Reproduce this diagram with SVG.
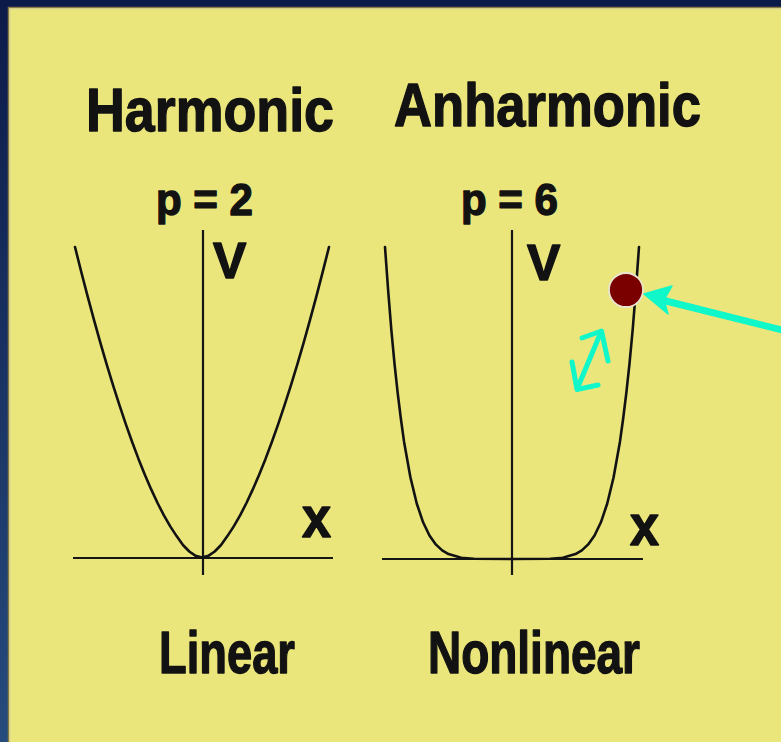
<svg xmlns="http://www.w3.org/2000/svg" width="781" height="742" viewBox="0 0 781 742">
<defs>
<linearGradient id="bg" x1="0" y1="0" x2="0" y2="1">
<stop offset="0" stop-color="#0c1a49"/>
<stop offset="1" stop-color="#264b7d"/>
</linearGradient>
<style>
.t{font-family:"Liberation Sans",Arial,Helvetica,sans-serif;font-weight:bold;fill:#121212;stroke:#121212;stroke-width:1.4;stroke-linejoin:round}
.ax{stroke:#151515;stroke-width:2.2;fill:none}
.cv{stroke:#121212;stroke-width:2.6;fill:none;stroke-linejoin:round;stroke-linecap:round}
.cy{stroke:#10f7c9;fill:none;stroke-linecap:round;stroke-linejoin:round}
</style>
</defs>
<rect x="0" y="0" width="781" height="742" fill="url(#bg)"/>
<rect x="0" y="0" width="781" height="7" fill="#0c1a49"/>
<rect x="8.5" y="7.5" width="774" height="736" fill="#ebe67c" stroke="#857a45" stroke-width="1.5"/>
<rect x="10" y="9" width="772" height="734" fill="none" stroke="#d9d39a" stroke-width="1"/>

<g id="title-harmonic"><text class="t" x="86" y="131" font-size="62" textLength="248" lengthAdjust="spacingAndGlyphs">Harmonic</text></g>
<g id="title-anharmonic"><text class="t" x="394" y="126" font-size="61" textLength="307" lengthAdjust="spacingAndGlyphs">Anharmonic</text></g>
<g id="label-p2"><text class="t" x="156" y="215" font-size="45" textLength="97" lengthAdjust="spacingAndGlyphs">p = 2</text></g>
<g id="label-p6"><text class="t" x="461" y="215" font-size="45" textLength="97" lengthAdjust="spacingAndGlyphs">p = 6</text></g>

<g id="plot-harmonic">
<line class="ax" x1="203" y1="230" x2="203" y2="575"/>
<line class="ax" x1="73" y1="558" x2="333" y2="558"/>
<polyline class="cv" points="75,247 81.35,272.2 87.7,296.6 94.05,320.1 100.4,342.8 106.75,364.6 113.1,385.3 119.45,405.2 125.8,424.1 132.15,442 138.5,458.9 144.85,474.7 151.2,489.4 157.55,503 163.9,515.4 170.25,526.4 176.6,536.1 182.95,545 189.3,551.5 195.65,555.8 202,557.5 208.35,555.8 214.7,551.5 221.05,545 227.4,536.1 233.75,526.4 240.1,515.4 246.45,503 252.8,489.4 259.15,474.7 265.5,458.9 271.85,442 278.2,424.1 284.55,405.2 290.9,385.3 297.25,364.6 303.6,342.8 309.95,320.1 316.3,296.6 322.65,272.2 329,247"/>
<text class="t" x="213" y="278" font-size="50">V</text>
<text class="t" x="302" y="537" font-size="58" textLength="29" lengthAdjust="spacingAndGlyphs">x</text>
</g>

<g id="plot-anharmonic">
<line class="ax" x1="512" y1="230" x2="512" y2="575"/>
<line class="ax" x1="382" y1="559" x2="643" y2="559"/>
<polyline class="cv" points="385,247 388.2,291 391.35,330 394.5,363.6 397.7,393.2 400.9,419 404,441.4 410.4,477.2 416.75,503.5 423.1,522.3 429.45,535.5 435.8,544.4 442.15,550.4 448.5,554.1 461.2,557.7 473.9,558.8 512,559 550.1,558.8 562.8,557.7 575.5,554.1 581.85,550.4 588.2,544.4 594.55,535.5 600.9,522.3 607.25,503.5 613.6,477.2 620,441.4 623.1,419 626.3,393.2 629.5,363.6 632.65,330 635.8,291 639,247"/>
<text class="t" x="527" y="280" font-size="50">V</text>
<text class="t" x="630" y="545" font-size="58" textLength="29" lengthAdjust="spacingAndGlyphs">x</text>
</g>

<g id="particle"><circle cx="626" cy="290" r="17" fill="#7a0000" stroke="#e8e4d0" stroke-width="1.8"/></g>

<g id="label-linear"><text class="t" x="159" y="673" font-size="60" textLength="136" lengthAdjust="spacingAndGlyphs">Linear</text></g>
<g id="label-nonlinear"><text class="t" x="428" y="673" font-size="60" textLength="212" lengthAdjust="spacingAndGlyphs">Nonlinear</text></g>

<g id="connectors">
<line class="cy" x1="662" y1="300" x2="782" y2="330" stroke-width="7"/>
<polygon points="644,294 672,286 664,300 668,314" fill="#10f7c9" stroke="#10f7c9" stroke-width="1.5" stroke-linejoin="round"/>
<polyline class="cy" stroke-width="5" points="582,338 601.5,331 608,361"/>
<line class="cy" stroke-width="5" x1="601" y1="332" x2="577.5" y2="388"/>
<polyline class="cy" stroke-width="5" points="572,362 577,389.5 598,385"/>
</g>
</svg>
